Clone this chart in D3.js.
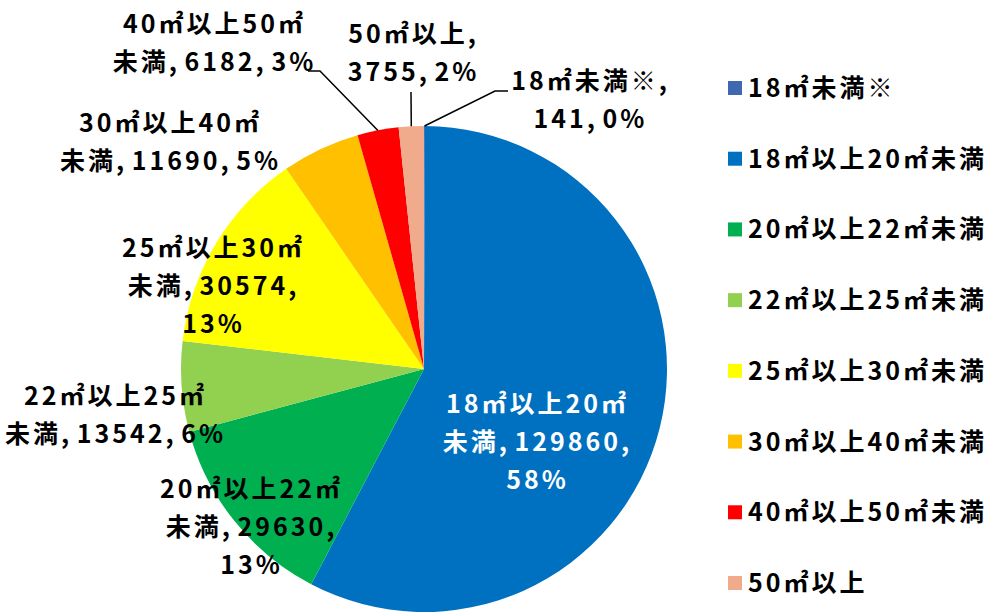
<!DOCTYPE html>
<html>
<head>
<meta charset="utf-8">
<script src="https://cdn.jsdelivr.net/npm/d3@7"></script>
<style>
  body { margin: 0; background: #fff; }
  text { font-family: "Noto Sans CJK JP", sans-serif; font-weight: 700; }
</style>
</head>
<body>
<div id="chart"></div>
<script>
// data
var categories = ["18㎡未満※", "18㎡以上20㎡未満", "20㎡以上22㎡未満", "22㎡以上25㎡未満",
  "25㎡以上30㎡未満", "30㎡以上40㎡未満", "40㎡以上50㎡未満", "50㎡以上"];
var counts = [141, 129860, 29630, 13542, 30574, 11690, 6182, 3755];
var percents = ["0%", "58%", "13%", "6%", "13%", "5%", "3%", "2%"];
var colors = ["#4068B0", "#0070C0", "#00B050", "#92D050", "#FFFF00", "#FFC000", "#FF0000", "#F0AA8C"];

// label text split the way the chart wraps it
var labelLines = [
  ["18㎡未満※,", "141, 0%"],
  ["18㎡以上20㎡", "未満, 129860,", "58%"],
  ["20㎡以上22㎡", "未満, 29630,", "13%"],
  ["22㎡以上25㎡", "未満, 13542, 6%"],
  ["25㎡以上30㎡", "未満, 30574,", "13%"],
  ["30㎡以上40㎡", "未満, 11690, 5%"],
  ["40㎡以上50㎡", "未満, 6182, 3%"],
  ["50㎡以上,", "3755, 2%"]
];
// label centre x and first baseline y
var labelPos = [[589, 90], [536, 413], [250, 498], [114, 405], [212, 257], [169, 132], [213, 33], [412, 43]];
// elbow points of leader lines (null = no leader)
var leaders = [[[508, 91], [495, 91]], null, null, null, null, null, [[308, 71], [320, 71]], [[411, 92]]];

var width = 1003, height = 613;
var cx = 424, cy = 369, r = 243;
var lineH = 38;
var fontSize = 25, spacing = 3;

var svg = d3.select("#chart").append("svg")
  .attr("width", width)
  .attr("height", height);

var pie = d3.pie().sort(null).value(function(d) { return d; });
var arcs = pie(counts);
var arc = d3.arc().innerRadius(0).outerRadius(r);

var g = svg.append("g").attr("transform", "translate(" + cx + "," + cy + ")");
g.selectAll("path")
  .data(arcs)
  .enter()
  .append("path")
  .attr("d", arc)
  .attr("fill", function(d, i) { return colors[i]; });

// leader lines
arcs.forEach(function(a, i) {
  if (!leaders[i]) return;
  var mid = (a.startAngle + a.endAngle) / 2;
  var pts = leaders[i].slice();
  pts.push([cx + Math.sin(mid) * r, cy - Math.cos(mid) * r]);
  svg.append("path")
    .attr("d", d3.line()(pts))
    .attr("fill", "none")
    .attr("stroke", "#000")
    .attr("stroke-width", 1.5);
});

// data labels
labelLines.forEach(function(lines, i) {
  var t = svg.append("text")
    .attr("text-anchor", "middle")
    .attr("font-size", fontSize)
    .attr("letter-spacing", spacing)
    .attr("word-spacing", -4)
    .attr("fill", i === 1 ? "#fff" : "#000");
  lines.forEach(function(s, j) {
    t.append("tspan")
      .attr("x", labelPos[i][0] + spacing / 2)
      .attr("y", labelPos[i][1] + j * lineH)
      .text(s);
  });
});

// legend
var ly = d3.scaleLinear().domain([0, categories.length - 1]).range([88, 583]);
var legend = svg.append("g");
legend.selectAll("rect")
  .data(categories)
  .enter()
  .append("rect")
  .attr("x", 728)
  .attr("y", function(d, i) { return ly(i) - 7; })
  .attr("width", 14)
  .attr("height", 14)
  .attr("fill", function(d, i) { return colors[i]; });
legend.selectAll("text")
  .data(categories)
  .enter()
  .append("text")
  .attr("x", 748)
  .attr("y", function(d, i) { return ly(i) + 9; })
  .attr("font-size", fontSize)
  .attr("letter-spacing", spacing)
  .text(function(d) { return d; });
</script>
</body>
</html>
